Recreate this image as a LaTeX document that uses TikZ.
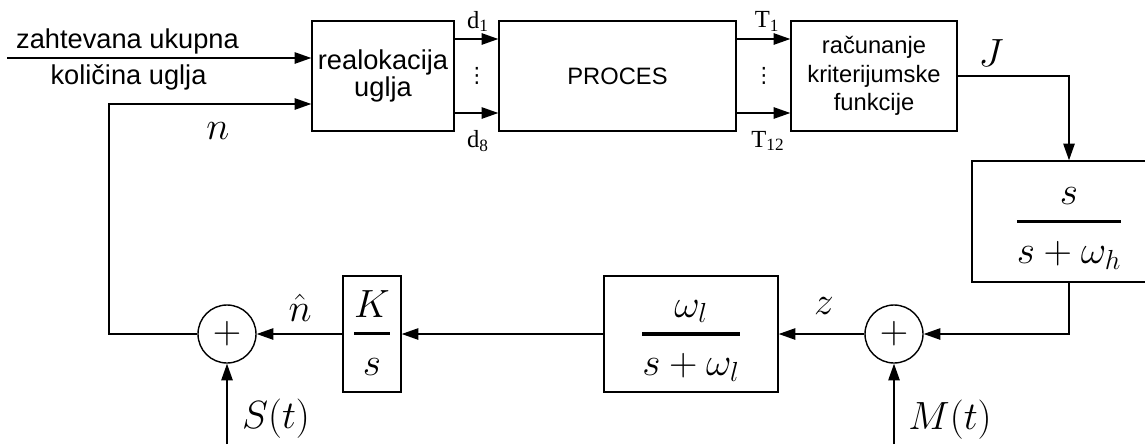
\RequirePackage{fix-cm}
\documentclass[tikz,border=0pt]{standalone}
\usepackage{amsmath}
\usepackage[no-math]{fontspec}
\setmainfont{Liberation Sans}
\newfontfamily\seriffont{Liberation Serif}
\newfontfamily\symbfont{DejaVu Sans}
\usetikzlibrary{arrows.meta}
\newcommand{\mathbig}{\fontsize{22.4}{27}\selectfont}
\newcommand{\blockfrac}[2]{\genfrac{}{}{1.8pt}{0}{\rule{0pt}{0.78em}#1}{\rule[-0.15em]{0pt}{0.93em}#2}}
\tikzset{
	block/.style={draw, inner sep=0pt, align=center},
	sumnode/.style={draw, circle, minimum size=1.16cm, inner sep=0pt, font=\mathbig},
	idx/.style={inner sep=0pt, font=\seriffont\fontsize{14}{16}\selectfont},
	vdotsnode/.style={inner sep=0pt, font=\symbfont\fontsize{12}{14}\selectfont},
}

\begin{document}
\begin{tikzpicture}[>={Triangle[length=9.5pt,width=6.5pt]}, line width=0.8pt]
	\useasboundingbox (0,0) rectangle (22.9,8.88);
	\clip (0,0) rectangle (22.9,8.88);
	% upper chain of blocks
	\node[block, minimum width=2.84cm, minimum height=2.2cm,
	font=\fontsize{15.5}{15.5}\selectfont] (realok) at (7.66,7.36)
	{realokacija\\uglja};
	\node[block, minimum width=4.74cm, minimum height=2.2cm,
	font=\fontsize{13.5}{16}\selectfont] (proc) at (12.35,7.36) {PROCES};
	\node[block, minimum width=3.32cm, minimum height=2.2cm,
	font=\fontsize{13.5}{16.2}\selectfont] (crit) at (17.48,7.36)
	{ra\v{c}unanje\\kriterijumske\\funkcije};
	% high-pass block (cut by the right border)
	\node[block, minimum width=3.88cm, minimum height=2.42cm, font=\mathbig]
	(hp) at (21.38,4.45) {$\blockfrac{s}{s+\omega_h}$};
	% lower chain: sums, low-pass, integrator
	\node[sumnode] (sumR) at (17.88,2.2) {$+$};
	\node[block, minimum width=3.48cm, minimum height=2.32cm, font=\mathbig]
	(lp) at (13.82,2.2) {$\blockfrac{\omega_l}{s+\omega_l}$};
	\node[block, minimum width=1.16cm, minimum height=2.32cm, font=\mathbig]
	(integ) at (7.44,2.2) {$\blockfrac{K}{s}$};
	\node[sumnode] (sumL) at (4.54,2.2) {$+$};
	% free ends
	\coordinate (demand) at (0.14,7.72);
	\coordinate (loop) at (2.18,6.8);
	\coordinate (dist) at (4.54,0);
	\coordinate (meas) at (17.88,0);
	% inputs of the reallocation block
	\draw[->] (demand) -- (demand -| realok.west);
	\node[anchor=base] (txtA) at (2.55,7.92) {\fontsize{15.5}{15.5}\selectfont zahtevana ukupna};
	\node[anchor=base] (txtB) at (2.57,7.2) {\fontsize{15.5}{15.5}\selectfont koli\v{c}ina uglja};
	\draw[->] (sumL.west) -| (loop) -- (loop -| realok.west);
	\node[font=\mathbig] (lblN) at (4.36,6.26) {$n$};
	% d and T signal bundles
	\draw[->] ([yshift=0.74cm]realok.east) -- ([yshift=0.74cm]proc.west);
	\draw[->] ([yshift=-0.74cm]realok.east) -- ([yshift=-0.74cm]proc.west);
	\node[idx] (lblD1) at (9.56,8.45) {d\textsubscript{1}};
	\node[idx] (lblD8) at (9.56,6.06) {d\textsubscript{8}};
	\node[vdotsnode] (dotsD) at (9.54,7.36) {⋮};
	\draw[->] ([yshift=0.74cm]proc.east) -- ([yshift=0.74cm]crit.west);
	\draw[->] ([yshift=-0.74cm]proc.east) -- ([yshift=-0.74cm]crit.west);
	\node[idx] (lblT1) at (15.34,8.45) {T\textsubscript{1}};
	\node[idx] (lblT12) at (15.36,6.06) {T\textsubscript{12}};
	\node[vdotsnode] (dotsT) at (15.28,7.36) {⋮};
	% feedback path
	\draw[->] (crit.east) -| (hp.north);
	\node[font=\mathbig] (lblJ) at (19.82,7.82) {$J$};
	\draw[->] (hp.south) |- (sumR.east);
	\draw[->] (meas) -- (sumR.south);
	\node[font=\mathbig] (lblM) at (19.0,0.48) {$M(t)$};
	\draw[->] (sumR.west) -- (lp.east);
	\node[font=\mathbig] (lblZ) at (16.48,2.76) {$z$};
	\draw[->] (lp.west) -- (integ.east);
	\draw[->] (integ.west) -- (sumL.east);
	\node[font=\mathbig] (lblNhat) at (6.0,2.72) {$\hat{n}$};
	\draw[->] (dist) -- (sumL.south);
	\node[font=\mathbig] (lblS) at (5.52,0.5) {$S(t)$};
\end{tikzpicture}
\end{document}
